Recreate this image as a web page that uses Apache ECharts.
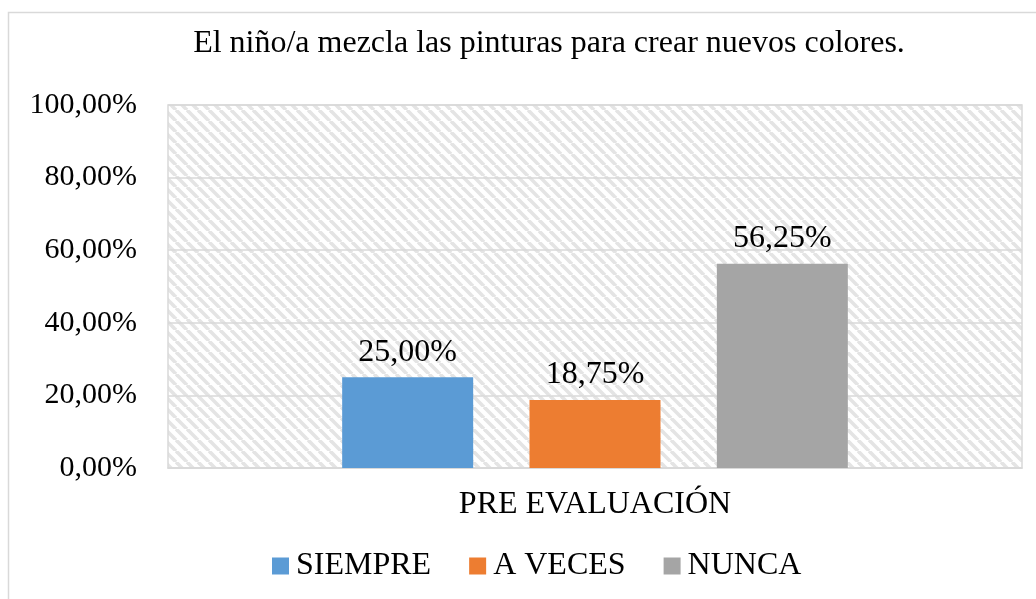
<!DOCTYPE html>
<html>
<head>
<meta charset="utf-8">
<script src="https://cdn.jsdelivr.net/npm/echarts@6/dist/echarts.min.js"></script>
<style>
  html, body { margin: 0; padding: 0; background: #fff; }
  #chart { width: 1036px; height: 599px; }
</style>
</head>
<body>
<div id="chart"></div>
<script>
  // datos
  var categories = ['PRE EVALUACIÓN'];
  var seriesNames = ['SIEMPRE', 'A VECES', 'NUNCA'];
  var siempre = [25.00];
  var aVeces = [18.75];
  var nunca = [56.25];
  var yTicks = [0, 20, 40, 60, 80, 100];

  var colors = ['#5b9bd5', '#ed7d31', '#a5a5a5'];
  var font = '"Liberation Serif", "Times New Roman", serif';

  /* trama diagonal del fondo */
  function hatch() {
    var s = 11;
    var c = document.createElement('canvas');
    c.width = s; c.height = s;
    var ctx = c.getContext('2d');
    ctx.fillStyle = '#fff';
    ctx.fillRect(0, 0, s, s);
    ctx.strokeStyle = '#e4e4e4';
    ctx.lineWidth = 3.6;
    [-s, 0, s].forEach(function (o) {
      ctx.beginPath();
      ctx.moveTo(o, 0);
      ctx.lineTo(o + s, s);
      ctx.stroke();
    });
    return {image: c, repeat: 'repeat'};
  }

  function pct(v) {
    return v.toFixed(2).replace('.', ',') + '%';
  }

  var values = [siempre, aVeces, nunca];
  var series = [];
  seriesNames.forEach(function (name, i) {
    series.push({
      type: 'bar',
      name: name,
      data: values[i],
      barWidth: 131,
      barGap: '43%',
      itemStyle: {color: colors[i]},
      label: {
        show: true,
        position: 'top',
        distance: 9,
        color: '#000',
        fontFamily: font,
        fontSize: 32,
        formatter: function (p) { return pct(p.value); }
      }
    });
  });

  var chart = echarts.init(document.getElementById('chart'));
  chart.setOption({
    animation: false,
    backgroundColor: '#fff',
    title: {
      text: 'El niño/a mezcla las pinturas para crear nuevos colores.',
      left: 544,
      textAlign: 'center',
      top: 23,
      textStyle: {fontFamily: font, fontSize: 32, fontWeight: 'normal', color: '#000'}
    },
    graphic: [{
      type: 'rect',
      shape: {x: 8.5, y: 12.5, width: 1040, height: 600},
      style: {fill: 'none', stroke: '#d9d9d9', lineWidth: 1.5},
      silent: true,
      z: -1
    }],
    legend: {
      top: 550,
      left: 272,
      padding: 0,
      itemWidth: 17,
      itemHeight: 17,
      itemGap: 38,
      icon: 'rect',
      textStyle: {fontFamily: font, fontSize: 32, color: '#000', padding: [0, 0, 0, 2]},
      data: seriesNames
    },
    grid: {
      show: true,
      left: 168,
      right: 14,
      top: 105,
      bottom: 131,
      backgroundColor: hatch(),
      borderColor: '#d9d9d9',
      borderWidth: 1.5
    },
    xAxis: {
      type: 'category',
      data: categories,
      axisLine: {show: true, lineStyle: {color: '#d9d9d9', width: 1.5}},
      axisTick: {show: false},
      axisLabel: {margin: 21, fontFamily: font, fontSize: 32, color: '#000'}
    },
    yAxis: {
      type: 'value',
      min: yTicks[0],
      max: yTicks[yTicks.length - 1],
      interval: yTicks[1] - yTicks[0],
      axisLine: {show: false},
      axisTick: {show: false},
      splitLine: {lineStyle: {color: '#d9d9d9', width: 1.5}},
      axisLabel: {margin: 31, fontFamily: font, fontSize: 30, color: '#000', formatter: pct}
    },
    series: series
  });
</script>
</body>
</html>
